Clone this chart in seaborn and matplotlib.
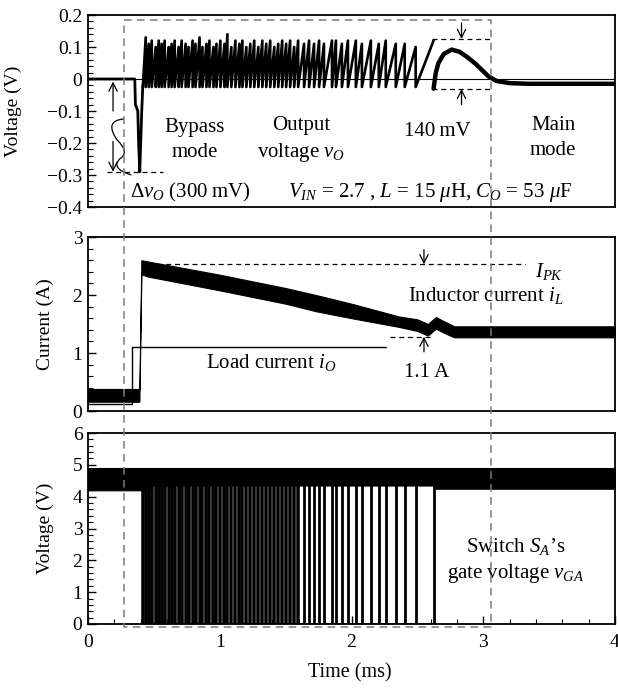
import numpy as np
import pandas as pd
import matplotlib
matplotlib.use("Agg")
import matplotlib.pyplot as plt
import seaborn as sns
from matplotlib.lines import Line2D
from matplotlib.path import Path
from matplotlib.patches import PathPatch
from matplotlib.ticker import MultipleLocator, FixedLocator, FixedFormatter

# ---------------- data ----------------
# switching instants of S_A (ms)
switch_t = [0.416, 0.438, 0.461, 0.484, 0.514, 0.537, 0.559, 0.582, 0.612, 0.635,
            0.658, 0.688, 0.711, 0.741, 0.763, 0.794, 0.816, 0.847, 0.869, 0.899,
            0.922, 0.952, 0.975, 1.005, 1.036, 1.058, 1.088, 1.119, 1.149, 1.172,
            1.202, 1.232, 1.262, 1.293, 1.323, 1.353, 1.383, 1.414, 1.444, 1.474,
            1.504, 1.534, 1.565, 1.595, 1.640, 1.678, 1.716, 1.754, 1.791, 1.852,
            1.882, 1.927, 1.973, 2.033, 2.079, 2.147, 2.207, 2.260, 2.336, 2.404,
            2.487, 2.623]
# output-voltage ripple peaks between consecutive switchings (V)
ripple_peak = [0.13, 0.11, 0.12, 0.10, 0.12, 0.11, 0.12, 0.10, 0.11, 0.12,
               0.10, 0.12, 0.11, 0.10, 0.12, 0.11, 0.13, 0.10, 0.11, 0.12,
               0.10, 0.11, 0.12, 0.11, 0.14, 0.10, 0.12, 0.11, 0.12, 0.10,
               0.11, 0.12, 0.10, 0.12, 0.11, 0.12, 0.10, 0.11, 0.12, 0.11,
               0.12, 0.10, 0.12, 0.11,
               0.12, 0.11, 0.12, 0.11, 0.12, 0.12, 0.11, 0.12, 0.12, 0.11,
               0.12, 0.11, 0.12, 0.11, 0.11, 0.10, 0.12]
ripple_low = -0.025

# output voltage: start-up dip (V)
vo_dip_t = [0.0, 0.355, 0.36, 0.378, 0.385, 0.393, 0.400, 0.408, 0.416]
vo_dip_v = [0.0, 0.0, -0.08, -0.10, -0.21, -0.29, -0.20, -0.10, -0.02]
# output voltage: overshoot and main mode (V)
vo_end_t = [2.623, 2.64, 2.66, 2.70, 2.76, 2.82, 2.88, 2.94, 2.99, 3.04, 3.10, 3.20, 3.35, 3.50, 4.00]
vo_end_v = [-0.03, 0.02, 0.05, 0.078, 0.092, 0.085, 0.068, 0.048, 0.028, 0.008, -0.006, -0.013, -0.015, -0.015, -0.015]

# inductor current envelope (A)
il_t  = [0.00, 0.39, 0.405, 0.45, 1.00, 1.50, 1.73, 2.00, 2.36, 2.50, 2.58, 2.64, 2.70, 2.78, 4.00]
il_hi = [0.38, 0.38, 2.60, 2.58, 2.35, 2.12, 2.00, 1.85, 1.63, 1.58, 1.50, 1.62, 1.55, 1.46, 1.46]
il_lo = [0.16, 0.16, 2.36, 2.32, 2.08, 1.85, 1.72, 1.60, 1.45, 1.38, 1.30, 1.42, 1.35, 1.27, 1.27]

# load current (A)
io_t = [0.0, 0.333, 0.333, 2.26]
io_v = [0.12, 0.12, 1.10, 1.10]

# gate voltage envelope of the high level (V)
gate_t  = [0.00, 0.42, 0.43, 2.62, 2.63, 4.00]
gate_hi = [4.90, 4.90, 4.90, 4.90, 4.90, 4.90]
gate_lo = [4.20, 4.20, 4.35, 4.35, 4.25, 4.25]
gate_low_level = 0.0

# ---------------- style ----------------
sns.set_theme(style="ticks")
plt.rcParams['font.family'] = ['Liberation Serif', 'DejaVu Serif']
plt.rcParams['mathtext.fontset'] = 'custom'
plt.rcParams['mathtext.rm'] = 'Liberation Serif'
plt.rcParams['mathtext.it'] = 'Liberation Serif:italic'
plt.rcParams['mathtext.bf'] = 'Liberation Serif:bold'
plt.rcParams['axes.unicode_minus'] = True
plt.rcParams['text.color'] = 'black'
plt.rcParams['axes.labelcolor'] = 'black'

FS = 14
TS = 15
W, H = 618, 690
fig = plt.figure(figsize=(W / 100, H / 100), dpi=100)

def frac(l, t, r, b):
    return [l / W, 1 - b / H, (r - l) / W, (b - t) / H]

ax1 = fig.add_axes(frac(88, 15, 615, 207))
ax2 = fig.add_axes(frac(88, 237, 615, 411))
ax3 = fig.add_axes(frac(88, 433, 615, 624))

for ax in (ax1, ax2, ax3):
    ax.set_facecolor('white')
    for s in ax.spines.values():
        s.set_linewidth(1.3)
        s.set_color('black')
        s.set_visible(True)
    ax.set_xlim(0, 4)
    ax.tick_params(axis='y', which='both', direction='in', left=True, right=False,
                   labelsize=FS, colors='black', pad=4)
    ax.tick_params(axis='y', which='major', length=6, width=1.0)
    ax.tick_params(axis='y', which='minor', length=3.5, width=0.8)
    ax.tick_params(axis='x', which='both', bottom=False, top=False, labelbottom=False)

dash = dict(color='black', lw=0.9, ls=(0, (4, 3)))
arrow = dict(arrowstyle='->', color='black', lw=0.9, mutation_scale=15, shrinkA=0, shrinkB=0)

# ---------------- top panel: output voltage ----------------
ax1.set_ylim(-0.4, 0.2)
ax1.axhline(0, color='black', lw=0.8, zorder=1)
rip_t, rip_v = [], []
for i, pk in enumerate(ripple_peak[:len(switch_t) - 1]):
    rip_t += [switch_t[i], switch_t[i + 1]]
    rip_v += [ripple_low, pk]
sns.lineplot(x=vo_dip_t, y=vo_dip_v, ax=ax1, color='black', lw=2.0, sort=False, estimator=None)
sns.lineplot(x=rip_t, y=rip_v, ax=ax1, color='black', lw=1.9, sort=False, estimator=None)
sns.lineplot(x=vo_end_t, y=vo_end_v, ax=ax1, color='black', lw=3.2, sort=False, estimator=None)
ax1.yaxis.set_major_locator(FixedLocator([0.2, 0.1, 0.0, -0.1, -0.2, -0.3, -0.4]))
ax1.yaxis.set_major_formatter(FixedFormatter(['0.2', '0.1', '0', '\u22120.1', '\u22120.2', '\u22120.3', '\u22120.4']))
ax1.yaxis.set_minor_locator(MultipleLocator(0.02))
ax1.set_xlabel('')
ax1.set_ylabel('Voltage (V)', fontsize=FS)
ax1.yaxis.set_label_coords(-0.125, 0.5)

# delta vo annotation
ax1.plot([0.144, 0.567], [-0.29, -0.29], **dash)
ax1.annotate('', xy=(0.19, -0.008), xytext=(0.19, -0.10), arrowprops=arrow)
ax1.annotate('', xy=(0.19, -0.29), xytext=(0.19, -0.195), arrowprops=arrow)
squig = Path([(0.272, -0.125), (0.12, -0.13), (0.22, -0.19), (0.32, -0.23), (0.24, -0.25),
              (0.17, -0.28), (0.33, -0.30)],
             [Path.MOVETO, Path.CURVE3, Path.CURVE3, Path.CURVE3, Path.CURVE3, Path.CURVE3, Path.CURVE3])
ax1.add_patch(PathPatch(squig, fill=False, color='black', lw=0.9))
# 140 mV annotation
ax1.plot([2.61, 3.05], [0.125, 0.125], **dash)
ax1.plot([2.61, 3.05], [-0.031, -0.031], **dash)
ax1.annotate('', xy=(2.835, 0.125), xytext=(2.835, 0.175), arrowprops=arrow)
ax1.annotate('', xy=(2.835, -0.031), xytext=(2.835, -0.08), arrowprops=arrow)

ax1.text(0.81, -0.19, 'Bypass\nmode', ha='center', va='center', fontsize=TS, linespacing=1.4)
ax1.text(1.62, -0.19, 'Output\nvoltage $v_O$', ha='center', va='center', fontsize=TS, linespacing=1.4)
ax1.text(2.65, -0.165, '140\u2009mV', ha='center', va='center', fontsize=TS)
ax1.text(3.53, -0.185, 'Main\nmode', ha='center', va='center', fontsize=TS, linespacing=1.4)
ax1.text(0.32, -0.355, '\u0394$v_O$ (300\u2009mV)', ha='left', va='center', fontsize=TS)
ax1.text(2.60, -0.355, r'$V_{IN}$ = 2.7 , $L$ = 15 $\mu$H, $C_O$ = 53 $\mu$F',
         ha='center', va='center', fontsize=TS)

# ---------------- middle panel: currents ----------------
ax2.set_ylim(0, 3)
ax2.fill_between(il_t, il_lo, il_hi, color='black', lw=0.8, edgecolor='black')
sns.lineplot(x=io_t, y=io_v, ax=ax2, color='black', lw=1.0, sort=False, estimator=None)
ax2.yaxis.set_major_locator(MultipleLocator(1))
ax2.yaxis.set_minor_locator(MultipleLocator(0.2))
ax2.set_xlabel('')
ax2.set_ylabel('Current (A)', fontsize=FS)
ax2.yaxis.set_label_coords(-0.065, 0.5)
ax2.plot([0.52, 3.32], [2.53, 2.53], **dash)
ax2.plot([2.29, 2.61], [1.28, 1.28], **dash)
ax2.annotate('', xy=(2.55, 2.53), xytext=(2.55, 2.78), arrowprops=arrow)
ax2.annotate('', xy=(2.55, 1.28), xytext=(2.55, 1.02), arrowprops=arrow)
ax2.text(3.50, 2.40, '$I_{PK}$', ha='center', va='center', fontsize=TS)
ax2.text(3.02, 2.00, 'Inductor current $i_L$', ha='center', va='center', fontsize=TS)
ax2.text(1.39, 0.83, 'Load current $i_O$', ha='center', va='center', fontsize=TS)
ax2.text(2.57, 0.67, '1.1\u2009A', ha='center', va='center', fontsize=TS)

# ---------------- bottom panel: gate voltage ----------------
ax3.set_ylim(0, 6)
ax3.fill_between(gate_t, gate_lo, gate_hi, color='black', lw=0.8, edgecolor='black')
dense = [t for t in switch_t if t < 1.62]
sparse = [t for t in switch_t if t >= 1.62]
ax3.vlines(dense, gate_low_level, 4.5, color='black', lw=2.55)
ax3.vlines(sparse, gate_low_level, 4.5, color='black', lw=2.0)
sns.lineplot(x=[switch_t[0], switch_t[-1]], y=[gate_low_level, gate_low_level], ax=ax3,
             color='black', lw=2.0, sort=False, estimator=None)
ax3.yaxis.set_major_locator(MultipleLocator(1))
ax3.yaxis.set_minor_locator(MultipleLocator(0.2))
ax3.xaxis.set_major_locator(MultipleLocator(1))
ax3.xaxis.set_minor_locator(MultipleLocator(0.2))
ax3.tick_params(axis='x', which='both', bottom=True, labelbottom=True, direction='in',
                labelsize=FS, pad=7, colors='black')
ax3.tick_params(axis='x', which='major', length=6, width=1.0)
ax3.tick_params(axis='x', which='minor', length=3.5, width=0.8)
ax3.set_ylabel('Voltage (V)', fontsize=FS)
ax3.yaxis.set_label_coords(-0.065, 0.5)
ax3.set_xlabel('')
ax3.text(3.25, 2.0, "Switch $S_A$\u2019s\ngate voltage $v_{GA}$", ha='center', va='center',
         fontsize=TS, linespacing=1.35)
fig.text(350 / W, 1 - 673 / H, 'Time (ms)', ha='center', va='center', fontsize=FS + 0.5, color='black')

# ---------------- grey dashed window spanning all panels ----------------
inv = fig.transFigure.inverted()
x_l, y_t = inv.transform(ax1.transData.transform((0.272, 0.184)))
x_r, _ = inv.transform(ax1.transData.transform((3.06, 0.184)))
_, y_b = inv.transform(ax3.transData.transform((0.272, -0.095)))
fig.add_artist(Line2D([x_l, x_r, x_r, x_l, x_l], [y_t, y_t, y_b, y_b, y_t], transform=fig.transFigure,
                      color='#7a7a7a', lw=1.1, ls=(0, (5, 3.5)), zorder=10))

fig.savefig('out.png', dpi=100, facecolor='white')
